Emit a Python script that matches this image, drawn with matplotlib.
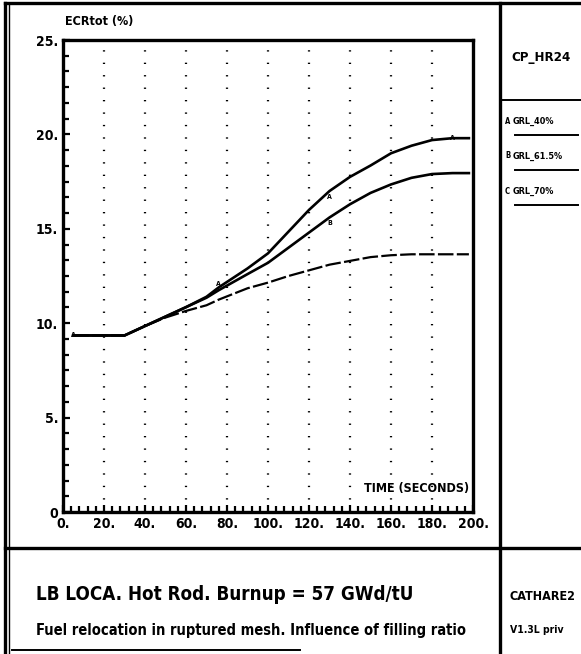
import numpy as np
import matplotlib.pyplot as plt
from matplotlib.ticker import MultipleLocator, AutoMinorLocator

# values
time_s = [5, 30, 40, 50, 60, 70, 76, 90, 100, 110, 120, 130, 140, 150, 160, 170, 180, 190, 198]
ecr_a = [9.35, 9.35, 9.85, 10.35, 10.85, 11.4, 11.9, 12.9, 13.7, 14.85, 16.0, 17.0, 17.75, 18.35, 19.0, 19.4, 19.7, 19.8, 19.8]
ecr_b = [9.35, 9.35, 9.85, 10.35, 10.85, 11.35, 11.75, 12.6, 13.2, 14.0, 14.8, 15.6, 16.3, 16.9, 17.35, 17.7, 17.9, 17.95, 17.95]
ecr_c = [9.35, 9.35, 9.85, 10.3, 10.65, 10.95, 11.25, 11.85, 12.15, 12.5, 12.8, 13.1, 13.3, 13.5, 13.6, 13.65, 13.65, 13.65, 13.65]
legend_tags = ["A", "B", "C"]
legend_names = ["GRL_40%", "GRL_61.5%", "GRL_70%"]
x_ticks = [0, 20, 40, 60, 80, 100, 120, 140, 160, 180, 200]
x_labels = ["0.", "20.", "40.", "60.", "80.", "100.", "120.", "140.", "160.", "180.", "200."]
y_ticks = [0, 5, 10, 15, 20, 25]
y_labels = ["0", "5.", "10.", "15.", "20.", "25."]

W, H = 581, 654
fam = "DejaVu Sans"
st = "condensed"

fig = plt.figure(figsize=(W / 100, H / 100), dpi=100)
fig.patch.set_facecolor("white")

# main plot, placed in pixel units
l, r, t, b = 63, 473, 40, 512
ax = fig.add_axes([l / W, 1 - b / H, (r - l) / W, (b - t) / H])
ax.set_xlim(0, 200)
ax.set_ylim(0, 25)

for xg in x_ticks[1:-1]:
    ax.axvline(xg, color="black", lw=1.6, ls=(0, (0.6, 5)), zorder=1)

ax.plot(time_s, ecr_a, color="black", lw=1.9, zorder=3)
ax.plot(time_s, ecr_b, color="black", lw=1.9, zorder=3)
ax.plot(time_s, ecr_c, color="black", lw=1.6, ls=(0, (7, 1.5)), zorder=3)

# small curve tags
for xs, ys, tag, dy in [(time_s[0], ecr_a[0], "A", 0.0), (time_s[6], ecr_a[6], "A", 0.2),
                        (time_s[11], ecr_a[11], "A", -0.3), (time_s[17], ecr_a[17], "A", 0.0),
                        (time_s[11], ecr_b[11], "B", -0.3)]:
    ax.text(xs, ys + dy, tag, fontsize=5, fontweight="bold", ha="center", va="center",
            family=fam, fontstretch=st, zorder=4)

ax.set_xticks(x_ticks)
ax.set_xticklabels(x_labels)
ax.set_yticks(y_ticks)
ax.set_yticklabels(y_labels)
ax.xaxis.set_minor_locator(AutoMinorLocator(5))
ax.yaxis.set_minor_locator(AutoMinorLocator(6))
ax.tick_params(which="both", direction="in", width=1.6, color="black")
ax.tick_params(which="major", length=5)
ax.tick_params(which="minor", length=4)
ax.tick_params(axis="x", which="both", top=False)
ax.tick_params(axis="y", which="both", right=False)
ax.tick_params(labelsize=10)
for lab in ax.get_xticklabels() + ax.get_yticklabels():
    lab.set_fontweight("bold")
    lab.set_family(fam)
    lab.set_fontstretch(st)
for sp in ax.spines.values():
    sp.set_linewidth(2.4)

ax.text(0.005, 1.025, "ECRtot (%)", transform=ax.transAxes, fontsize=9, fontweight="bold",
        family=fam, fontstretch=st, ha="left", va="bottom")
ax.text(0.99, 0.05, "TIME (SECONDS)", transform=ax.transAxes, fontsize=9, fontweight="bold",
        family=fam, fontstretch=st, ha="right", va="center")

# overlay for the frame and the text blocks, in pixel units
ov = fig.add_axes([0, 0, 1, 1], zorder=5)
ov.set_xlim(0, W)
ov.set_ylim(H, 0)
ov.axis("off")
ov.patch.set_alpha(0)

ov.plot([5, 5], [3, H], color="black", lw=2.4)
ov.plot([9, 9], [3, H], color="black", lw=1.0)
ov.plot([5, W], [3, 3], color="black", lw=2.4)
ov.plot([500, 500], [3, H], color="black", lw=2.4)
ov.plot([5, W], [548, 548], color="black", lw=2.4)
ov.plot([500, W], [100, 100], color="black", lw=1.4)
ov.plot([12, 300], [650, 650], color="black", lw=1.4)

ov.text(511, 57, "CP_HR24", fontsize=9.5, fontweight="bold", family=fam, fontstretch=st,
        ha="left", va="center")
for i, (tag, name) in enumerate(zip(legend_tags, legend_names)):
    yy = 121 + i * 35
    ov.text(505, yy, tag, fontsize=5.5, fontweight="bold", family=fam, fontstretch=st,
            ha="left", va="center")
    ov.text(513, yy, name, fontsize=6.5, fontweight="bold", family=fam, fontstretch=st,
            ha="left", va="center")
    ov.plot([515, 578], [yy + 14, yy + 14], color="black", lw=1.4)

ov.text(36, 594, "LB LOCA. Hot Rod. Burnup = 57 GWd/tU", fontsize=13.5, fontweight="bold",
        family=fam, fontstretch=st, ha="left", va="center")
ov.text(36, 630, "Fuel relocation in ruptured mesh. Influence of filling ratio", fontsize=10.5,
        fontweight="bold", family=fam, fontstretch=st, ha="left", va="center")
ov.text(510, 596, "CATHARE2", fontsize=9, fontweight="bold", family=fam, fontstretch=st,
        ha="left", va="center")
ov.text(510, 630, "V1.3L priv", fontsize=7.5, fontweight="bold", family=fam, fontstretch=st,
        ha="left", va="center")

fig.savefig("out.png", dpi=100)
